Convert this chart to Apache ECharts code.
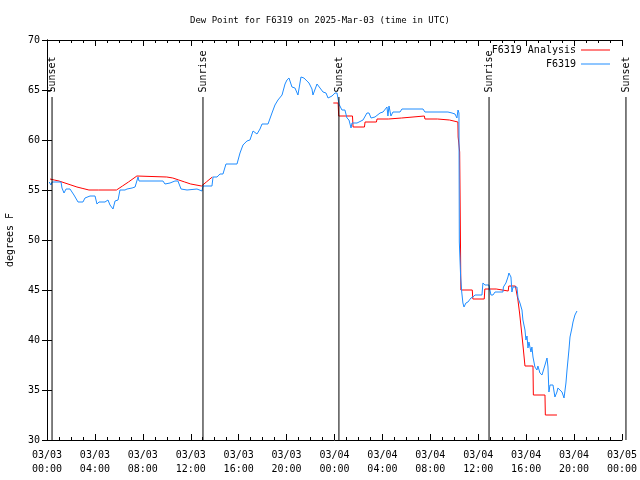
<!DOCTYPE html>
<html><head><meta charset="utf-8">
<script src="https://cdn.jsdelivr.net/npm/echarts@6/dist/echarts.min.js"></script>
<style>html,body{margin:0;padding:0;background:#fff}#c{width:640px;height:480px}</style>
</head><body><div id="c"></div>
<script>
// Hours since 2025-03-03 00:00 UTC
const redHours = [0.25,0.6,1.0,1.5,2.0,2.5,3.0,3.5,4.3,5.8,6.3,6.8,7.5,10.0,10.5,11.0,11.5,12.0,12.9,13.3,13.8,18.0,
  23.9,24.3,24.35,25.5,25.55,26.5,26.55,27.5,27.55,28.5,28.55,29.6,29.65,31.5,31.55,32.6,32.65,33.6,33.65,34.3,34.32,34.45,34.5,34.55,
  35.5,35.55,36.5,36.55,37.5,37.55,38.5,38.55,39.1,39.3,39.45,39.6,39.73,39.9,40.57,40.6,41.57,41.6,42.57];
const redValues = [56.1,56.0,55.9,55.7,55.5,55.3,55.15,55.0,55.0,55.0,55.4,55.8,56.4,56.3,56.2,56.0,55.8,55.6,55.4,55.8,56.3,null,
  63.7,63.7,62.4,62.4,61.3,61.3,61.8,61.8,62.1,62.1,62.2,62.2,62.4,62.4,62.1,62.1,62.0,62.0,61.8,61.8,60.3,58.8,52.0,45.0,
  45.0,44.1,44.1,45.1,45.1,44.9,44.9,45.4,45.4,44.1,42.7,41.0,39.5,37.4,37.4,34.5,34.5,32.5,32.5];
const blueHours = [0.19,0.33,0.42,1.17,1.25,1.42,1.59,1.92,2.25,2.59,3.0,3.17,3.59,4.01,4.17,4.34,4.84,5.09,5.26,5.51,5.68,5.93,6.09,6.51,6.68,7.1,7.35,7.6,7.68,
  9.68,9.85,10.27,10.68,10.93,11.19,11.69,12.52,12.94,13.02,13.77,13.86,14.19,14.44,14.69,14.94,15.86,16.11,16.36,16.69,16.94,17.2,17.53,17.78,17.95,
  18.45,18.78,19.03,19.28,19.62,19.87,20.03,20.2,20.45,20.7,20.95,21.2,21.45,21.7,21.87,22.12,22.2,22.54,22.79,23.04,23.29,23.46,23.79,24.04,24.21,
  24.37,24.62,24.87,25.04,25.21,25.38,25.46,25.88,25.96,26.38,26.71,26.88,27.05,27.38,27.8,28.05,28.38,28.46,28.55,28.71,28.88,29.47,29.63,31.39,31.55,
  33.47,33.81,34.06,34.22,34.31,34.39,34.42,34.53,34.62,34.72,34.81,34.97,35.14,35.39,35.56,35.73,36.31,36.39,36.56,36.89,37.06,37.23,37.4,38.06,38.1,
  38.31,38.48,38.56,38.73,38.81,38.9,39.23,39.32,39.48,39.65,39.73,39.9,39.98,40.07,40.15,40.23,40.4,40.48,40.57,40.73,40.82,40.9,40.98,41.15,41.32,
  41.4,41.57,41.74,41.82,41.9,41.99,42.15,42.24,42.4,42.57,42.65,42.99,43.16,43.32,43.41,43.57,43.66,43.82,43.91,44.07,44.24];
const blueValues = [55.8,55.5,55.8,55.8,55.2,54.7,55.1,55.1,54.5,53.8,53.8,54.2,54.4,54.4,53.6,53.8,53.8,54.0,53.5,53.1,53.9,54.0,55.0,55.0,55.1,55.2,55.3,56.3,55.9,
  55.9,55.6,55.7,55.9,55.9,55.1,55.0,55.1,54.9,55.4,55.4,56.3,56.3,56.6,56.6,57.6,57.6,58.7,59.5,59.9,60.0,60.9,60.6,61.1,61.6,
  61.6,62.7,63.5,64.0,64.5,65.6,66.0,66.2,65.3,65.2,64.5,66.3,66.2,65.9,65.7,65.1,64.5,65.6,65.2,64.8,64.7,64.2,64.4,64.7,64.7,
  63.6,63.0,63.0,62.2,62.0,61.2,61.7,61.7,61.9,62.0,62.7,62.7,62.2,62.3,62.7,62.8,63.3,62.4,63.4,62.4,62.8,62.8,63.1,63.1,62.8,
  62.8,62.7,62.6,62.2,63.0,62.7,49.8,46.3,44.8,43.7,43.3,43.7,43.8,44.2,44.3,44.5,44.5,45.7,45.5,45.5,44.5,44.5,44.8,44.8,45.3,
  45.7,46.3,46.7,46.3,44.8,45.3,45.3,44.2,43.7,43.0,42.0,41.0,40.0,40.4,39.2,39.8,38.8,39.3,38.3,37.3,37.5,37.0,37.4,36.7,36.5,
  36.7,37.5,38.2,37.3,34.8,35.5,35.3,35.5,34.3,34.8,35.2,34.8,34.2,35.7,37.0,39.0,40.3,41.2,41.8,42.5,42.9];
const sunHours = [0.42, 13.02, 24.37, 36.9, 48.33];
const sunLabels = ['Sunset', 'Sunrise', 'Sunset', 'Sunrise', 'Sunset'];
const dayLabels = ['03/03', '03/04', '03/05'];
const seriesNames = ['F6319 Analysis', 'F6319'];
const seriesColors = ['#ff0000', '#1e8cff'];
const titleText = 'Dew Point for F6319 on 2025-Mar-03 (time in UTC)';
const yName = 'degrees F';

const FONT = '"DejaVu Sans Mono", "Liberation Mono", monospace';
const txt = {fontFamily: FONT, fontSize: 10, color: '#000'};
const zip = (a, b) => a.map((h, i) => [h, b[i] == null ? '-' : b[i]]);

function xFmt(v) {
  const d = Math.floor(v / 24 + 1e-9);
  const hh = Math.round(v - d * 24);
  return dayLabels[d] + '\n' + String(hh).padStart(2, '0') + ':00';
}

const chart = echarts.init(document.getElementById('c'), null, {renderer: 'canvas'});
const xBase = {type: 'value', min: 0, max: 48, interval: 4, splitLine: {show: false},
  axisLine: {lineStyle: {color: '#000', width: 1}},
  axisTick: {inside: true, length: 6, lineStyle: {color: '#000'}},
  minorTick: {show: true, splitNumber: 4, length: 3, lineStyle: {color: '#000'}}};
const yBase = {type: 'value', min: 30, max: 70, interval: 5, splitLine: {show: false},
  axisLine: {lineStyle: {color: '#000', width: 1}},
  axisTick: {inside: true, length: 5, lineStyle: {color: '#000'}}};
const legendBase = {right: 30, align: 'right', itemWidth: 29, itemHeight: 1, itemGap: 0, textStyle: txt,
  selectedMode: false, padding: 0};
chart.setOption({
  animation: false,
  title: {text: titleText, left: 'center', top: 11, textStyle: Object.assign({}, txt, {fontSize: 9, fontWeight: 'normal'})},
  grid: {left: 47, right: 18, top: 40, bottom: 40, containLabel: false, outerBoundsMode: 'none'},
  xAxis: [
    Object.assign({}, xBase, {position: 'bottom', axisLabel: Object.assign({}, txt, {formatter: xFmt, margin: 8, lineHeight: 14})}),
    Object.assign({}, xBase, {position: 'top', axisLabel: {show: false}})
  ],
  yAxis: [
    Object.assign({}, yBase, {position: 'left', name: yName, nameLocation: 'middle', nameGap: 32, nameRotate: 90,
      nameTextStyle: txt, axisLabel: Object.assign({}, txt, {margin: 7})}),
    Object.assign({}, yBase, {position: 'right', axisLabel: {show: false}})
  ],
  legend: [
    Object.assign({}, legendBase, {top: 45, data: [{name: seriesNames[0], icon: 'rect', itemStyle: {color: seriesColors[0]}}]}),
    Object.assign({}, legendBase, {top: 59, data: [{name: seriesNames[1], icon: 'rect', itemStyle: {color: seriesColors[1]}}]})
  ],
  series: [
    {name: seriesNames[0], type: 'line', data: zip(redHours, redValues), symbol: 'none', connectNulls: false,
      lineStyle: {color: seriesColors[0], width: 1}, itemStyle: {color: seriesColors[0]}, z: 3},
    {name: seriesNames[1], type: 'line', data: zip(blueHours, blueValues), symbol: 'none',
      lineStyle: {color: seriesColors[1], width: 1}, itemStyle: {color: seriesColors[1]}, z: 4}
  ]
});

const g = [];
sunHours.forEach((h, i) => {
  const top = chart.convertToPixel({gridIndex: 0}, [h, 64.3]);
  const bot = chart.convertToPixel({gridIndex: 0}, [h, 30]);
  const lab = chart.convertToPixel({gridIndex: 0}, [h, 64.75]);
  g.push({type: 'line', shape: {x1: top[0], y1: top[1], x2: bot[0], y2: bot[1]}, style: {stroke: '#000', lineWidth: 1}, z: 10});
  g.push({type: 'text', x: lab[0], y: lab[1], rotation: Math.PI / 2,
    style: {text: sunLabels[i], font: '10px ' + FONT, fill: '#000', align: 'left', verticalAlign: 'middle'}, z: 10});
});
chart.setOption({graphic: g});
</script></body></html>
